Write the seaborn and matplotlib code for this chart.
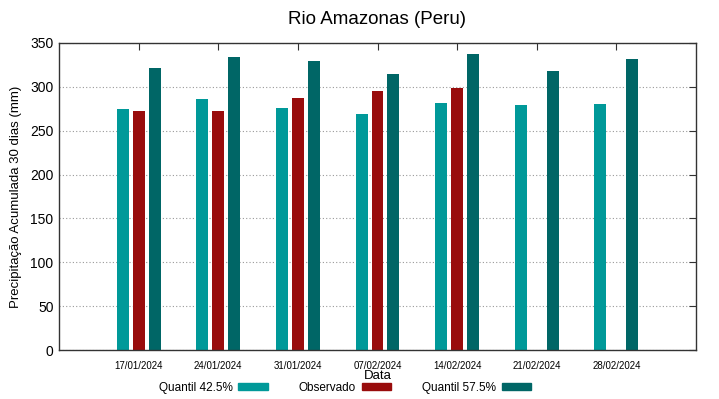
import numpy as np
import pandas as pd
import matplotlib
matplotlib.use('Agg')
import matplotlib.pyplot as plt
from matplotlib.patches import Patch
import seaborn as sns

datas = ['17/01/2024', '24/01/2024', '31/01/2024', '07/02/2024',
         '14/02/2024', '21/02/2024', '28/02/2024']
quantil_425 = [275, 286, 276, 269, 282, 279, 280]
observado = [273, 272, 287, 295, 299, np.nan, np.nan]
quantil_575 = [322, 334, 330, 315, 338, 318, 332]

series = ['Quantil 42.5%', 'Observado', 'Quantil 57.5%']
cores = ['#009999', '#990c0c', '#006666']

df = pd.DataFrame({
    'Data': datas * 3,
    'valor': quantil_425 + observado + quantil_575,
    'serie': [series[0]] * 7 + [series[1]] * 7 + [series[2]] * 7,
})

sns.set_style('white')
plt.rcParams['font.family'] = ['Liberation Sans', 'DejaVu Sans']
plt.rcParams['text.color'] = 'black'
plt.rcParams['axes.labelcolor'] = 'black'
plt.rcParams['xtick.color'] = 'black'
plt.rcParams['ytick.color'] = 'black'

fig, ax = plt.subplots(figsize=(7.19, 3.99), dpi=100)
fig.subplots_adjust(left=59 / 719, right=696 / 719, top=1 - 43 / 399, bottom=1 - 350 / 399)

sns.barplot(data=df, x='Data', y='valor', hue='serie', order=datas,
            hue_order=series, palette=cores, saturation=1, width=0.6, gap=0.25,
            linewidth=0, legend=False, ax=ax)

ax.set_xlim(-1, 7)
ax.set_ylim(0, 350)
ax.set_yticks(range(0, 351, 50))
ax.yaxis.grid(True, linestyle=(0, (1, 2)), color='#999999', linewidth=0.8)
ax.set_axisbelow(True)
for s in ax.spines.values():
    s.set_color('#333333')
    s.set_linewidth(1)
ax.tick_params(axis='both', direction='in', top=True, right=True,
               length=5, width=0.8, color='#333333')
ax.tick_params(axis='x', labelsize=7, pad=8)
ax.tick_params(axis='y', labelsize=10, pad=4)

ax.set_xlabel('Data', fontsize=9.5, labelpad=-1)
ax.set_ylabel('Precipitação Acumulada 30 dias (mm)', fontsize=9.5, labelpad=6)
ax.set_title('Rio Amazonas (Peru)', fontsize=13.5, pad=14)

handles = [Patch(facecolor=c, edgecolor=c) for c in cores]
fig.legend(handles, series, loc='center', bbox_to_anchor=(345 / 719, 0.028),
           ncol=3, frameon=False, markerfirst=False, fontsize=8.5,
           handlelength=2.5, handleheight=0.5, columnspacing=2.6,
           handletextpad=0.5)

fig.savefig('out.png', dpi=100)
